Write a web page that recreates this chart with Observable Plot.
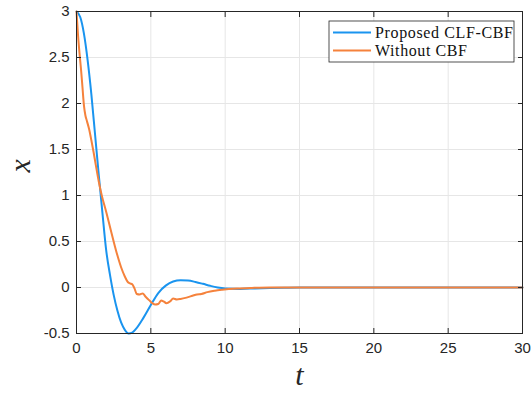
<!DOCTYPE html>
<html><head><meta charset="utf-8">
<script src="https://cdn.jsdelivr.net/npm/d3@7"></script>
<script src="https://cdn.jsdelivr.net/npm/@observablehq/plot@0.6"></script>
<style>
body{margin:0;background:#fff}
#chart svg{display:block}
</style></head><body><div id="chart"></div>
<script>
// Proposed CLF-CBF
const tBlue = [0,0.25,0.5,0.75,1.0,1.25,1.5,1.75,2.0,2.25,2.5,2.75,3.0,3.25,3.5,3.75,4.0,4.5,5.0,5.5,6.0,6.5,7.0,7.5,8.0,8.5,9.0,9.5,10,11,12,13,14,15,20,25,30];
const xBlue = [3.0,2.94,2.76,2.47,2.1,1.66,1.22,0.8,0.4,0.14,-0.08,-0.25,-0.38,-0.46,-0.5,-0.49,-0.45,-0.33,-0.19,-0.06,0.02,0.065,0.078,0.075,0.06,0.04,0.018,0.0,-0.01,-0.015,-0.01,-0.005,-0.002,0,0,0,0];
// Without CBF
const tOrange = [0,0.1,0.2,0.3,0.4,0.5,0.6,0.7,0.85,1.0,1.15,1.3,1.5,1.7,2.0,2.25,2.5,2.75,3.0,3.25,3.45,3.6,3.75,3.9,4.05,4.25,4.45,4.65,4.9,5.1,5.3,5.5,5.7,5.85,6.05,6.3,6.5,6.75,7.0,7.4,7.8,8.1,8.4,8.8,9.3,9.8,10.8,11.8,13,20,30];
const xOrange = [3.0,2.75,2.55,2.38,2.18,1.98,1.87,1.81,1.72,1.6,1.47,1.33,1.15,1.0,0.82,0.66,0.5,0.35,0.22,0.12,0.06,0.045,0.035,-0.01,-0.07,-0.075,-0.065,-0.1,-0.14,-0.17,-0.185,-0.18,-0.14,-0.15,-0.17,-0.15,-0.12,-0.13,-0.125,-0.11,-0.09,-0.075,-0.07,-0.05,-0.035,-0.025,-0.012,-0.005,0,0,0];

const seriesNames = ["Proposed CLF-CBF", "Without CBF"];
const colors = ["#1a94ef", "#f5823c"];
const xTicks = [0,5,10,15,20,25,30];
const yTicks = [-0.5,0,0.5,1,1.5,2,2.5,3];
const xLabel = "t";
const yLabel = "x";

const data = [
  ...tBlue.map((t,i)=>({t, v:xBlue[i], s:seriesNames[0]})),
  ...tOrange.map((t,i)=>({t, v:xOrange[i], s:seriesNames[1]}))
];

const axisColor = "#262626";
const gridColor = "#e6e6e6";
const serif = "'Liberation Serif', 'DejaVu Serif', serif";

const plot = Plot.plot({
  width: 532, height: 399,
  marginLeft: 76, marginRight: 10, marginTop: 11, marginBottom: 66,
  style: {fontFamily: "'Liberation Sans', Arial, Helvetica, sans-serif", fontSize: "15px", color: axisColor, background: "#fff"},
  x: {domain: [0, 30]},
  y: {domain: [-0.5, 3]},
  color: {domain: seriesNames, range: colors},
  marks: [
    Plot.gridX(xTicks, {stroke: gridColor, strokeOpacity: 1}),
    Plot.gridY(yTicks, {stroke: gridColor, strokeOpacity: 1}),
    Plot.line(data, {x: "t", y: "v", z: "s", stroke: "s", strokeWidth: 2, curve: "monotone-x"}),
    Plot.frame({stroke: axisColor, strokeWidth: 1}),
    Plot.axisX(xTicks, {anchor: "bottom", tickSize: 5, dy: -5, text: null, label: null}),
    Plot.axisX(xTicks, {anchor: "top", tickSize: 5, dy: 5, text: null, label: null}),
    Plot.axisY(yTicks, {anchor: "left", tickSize: 5, dx: 5, text: null, label: null}),
    Plot.axisY(yTicks, {anchor: "right", tickSize: 5, dx: -5, text: null, label: null}),
    Plot.axisX(xTicks, {anchor: "bottom", tickSize: 0, tickPadding: 9, tickFormat: d => String(d), label: null}),
    Plot.axisY(yTicks, {anchor: "left", tickSize: 0, tickPadding: 7, tickFormat: d => String(d), label: null}),
    Plot.text([xLabel], {text: d => d, frameAnchor: "bottom", dy: 51, fontSize: 30, fontStyle: "italic", fontFamily: serif, fill: axisColor}),
    Plot.text([yLabel], {text: d => d, frameAnchor: "left", dx: -56, rotate: -90, fontSize: 30, fontStyle: "italic", fontFamily: serif, fill: axisColor})
  ]
});

// Legend (MATLAB-style box inside the axes, top-right)
const legendTextWidths = [138, 92];
const svg = d3.select(plot);
const lg = svg.append("g").attr("class", "legend").attr("text-anchor", "start");
lg.append("rect").attr("x", 329).attr("y", 21).attr("width", 185).attr("height", 41)
  .attr("fill", "#fff").attr("stroke", axisColor).attr("stroke-width", 0.8);
seriesNames.forEach((name, i) => {
  const cy = 32.5 + 18 * i;
  lg.append("line").attr("x1", 333).attr("x2", 371).attr("y1", cy).attr("y2", cy)
    .attr("stroke", colors[i]).attr("stroke-width", 2);
  lg.append("text").attr("x", 375).attr("y", cy + 5).attr("text-anchor", "start")
    .attr("textLength", legendTextWidths[i]).attr("lengthAdjust", "spacing").text(name)
    .attr("fill", "#111").style("font-family", serif).style("font-size", "16px");
});

document.getElementById("chart").appendChild(plot);
</script>
</body></html>
